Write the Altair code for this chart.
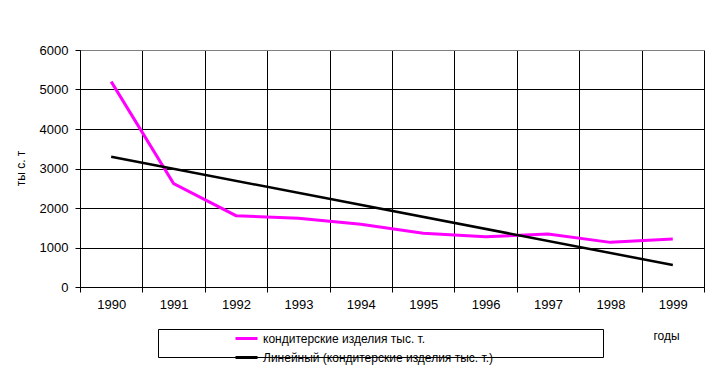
import altair as alt
import pandas as pd

years = [1990, 1991, 1992, 1993, 1994, 1995, 1996, 1997, 1998, 1999]
values = [5200, 2620, 1805, 1740, 1587, 1360, 1275, 1340, 1130, 1215]
series_names = ["кондитерские изделия тыс. т.", "Линейный (кондитерские изделия тыс. т.)"]
series_colors = ["#FF00FF", "#000000"]
y_ticks = [0, 1000, 2000, 3000, 4000, 5000, 6000]

df = pd.DataFrame({"year": years, "value": values})
FONT = "Liberation Sans"

color = alt.Color(
    "series:N",
    scale=alt.Scale(domain=series_names, range=series_colors),
    legend=alt.Legend(
        title=None, orient="none", legendX=154, legendY=276,
        symbolType="stroke", symbolSize=484, symbolStrokeWidth=3,
        labelFont=FONT, labelFontSize=12, labelColor="black", labelLimit=400,
        rowPadding=-6, padding=0, labelOffset=4,
    ),
)

x = alt.X(
    "year:O", title="годы",
    axis=alt.Axis(
        labelAngle=0, tickBand="extent", tickSize=5, tickColor="black",
        domainColor="black", gridColor="black", grid=True, labelPadding=6,
        labelFont=FONT, labelFontSize=13, labelColor="black",
        titleFont=FONT, titleFontSize=12, titleFontWeight="normal",
        titleX=586, titleY=48, titleAlign="center", titleBaseline="middle",
    ),
    scale=alt.Scale(paddingInner=0, paddingOuter=0),
)
y = alt.Y(
    "value:Q", title="ты с. т",
    scale=alt.Scale(domain=[0, 6000], nice=False),
    axis=alt.Axis(
        values=y_ticks, format="d", tickSize=5, tickColor="black", domainColor="black",
        gridColor={"condition": {"test": "datum.value === 6000", "value": "#808080"}, "value": "black"},
        labelPadding=7, labelFont=FONT, labelFontSize=13, labelColor="black",
        titleFont=FONT, titleFontSize=12, titleFontWeight="normal",
        titleX=-60, titleY=118, titleAngle=-90, titleAlign="center", titleBaseline="middle",
    ),
)

base = alt.Chart(df)
data_line = base.transform_calculate(series=f"'{series_names[0]}'").mark_line(
    strokeWidth=3
).encode(x=x, y=y, color=color)

trend = base.transform_regression("year", "value", method="linear").transform_calculate(
    series=f"'{series_names[1]}'"
).mark_line(strokeWidth=2.5).encode(x=x, y=y, color=color)

one = pd.DataFrame({"a": [0]})
BX0, BX1, BY0, BY1 = 78.5, 523.5, 279.5, 307.5
box_top = alt.Chart(one).mark_rule(color="black", strokeWidth=1).encode(
    x=alt.value(BX0), x2=alt.value(BX1), y=alt.value(BY0))
box_bottom = alt.Chart(one).mark_rule(color="black", strokeWidth=1).encode(
    x=alt.value(BX0), x2=alt.value(BX1), y=alt.value(BY1))
box_left = alt.Chart(one).mark_rule(color="black", strokeWidth=1).encode(
    x=alt.value(BX0), y=alt.value(BY0), y2=alt.value(BY1))
box_right = alt.Chart(one).mark_rule(color="black", strokeWidth=1).encode(
    x=alt.value(BX1), y=alt.value(BY0), y2=alt.value(BY1))

chart = alt.layer(data_line, trend, box_top, box_bottom, box_left, box_right).properties(
    width=624, height=237,
    autosize=alt.AutoSizeParams(type="none"),
    padding={"left": 72, "top": 42, "right": 9, "bottom": 78},
).configure_view(stroke="#808080", strokeWidth=1).configure(background="white")

chart.save("out.html", embed_options={"renderer": "svg", "actions": False})
